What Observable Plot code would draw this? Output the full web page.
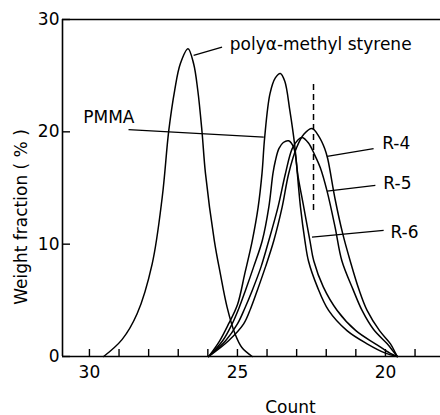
<!DOCTYPE html>
<html><head><meta charset="utf-8">
<script src="https://cdn.jsdelivr.net/npm/d3@7"></script>
<script src="https://cdn.jsdelivr.net/npm/@observablehq/plot@0.6"></script>
<style>html,body{margin:0;padding:0;background:#fff}</style>
</head><body><div id="chart"></div>
<script>
// ---- data (Count, weight fraction %) ----
const pamsCount  = [29.52, 28.9, 28.39, 27.88, 27.54, 27.32, 27.12, 26.93, 26.67, 26.48, 26.34, 26.2, 26.08, 25.78, 25.58, 25.35, 25.08, 24.85, 24.5];
const pamsWeight = [0, 1.5, 3.8, 8.25, 14.2, 20.1, 23.7, 26.06, 27.4, 26.06, 23.7, 20.1, 16.3, 10.3, 7.4, 4.4, 2.0, 0.8, 0];

const pmmaCount  = [25.97, 25.6, 25.3, 25.0, 24.75, 24.5, 24.3, 24.17, 24.08, 23.9, 23.72, 23.55, 23.4, 23.23, 23.07, 22.87, 22.72, 22.6, 22.3, 21.92, 21.3, 20.62, 20.0, 19.6];
const pmmaWeight = [0, 1.4, 2.9, 4.6, 7.4, 10.3, 13.3, 16.3, 19.5, 23.4, 24.8, 25.2, 24.5, 21.9, 18.9, 13.3, 10.3, 8.5, 6.2, 4.1, 2.3, 1.13, 0.3, 0];

const r6Count  = [25.97, 25.5, 25.18, 24.95, 24.73, 24.45, 24.16, 23.94, 23.8, 23.72, 23.6, 23.45, 23.27, 23.1, 22.95, 22.76, 22.55, 22.42, 22.1, 21.63, 21.0, 20.34, 19.85, 19.6];
const r6Weight = [0, 1.4, 2.9, 4.3, 5.88, 8.0, 10.33, 13.3, 16.3, 17.4, 18.5, 19.05, 19.2, 18.6, 16.0, 13.3, 10.3, 8.5, 6.2, 4.1, 2.3, 1.13, 0.3, 0];

const r5Count  = [25.97, 25.4, 25.0, 24.75, 24.5, 24.2, 23.94, 23.63, 23.38, 23.15, 22.95, 22.81, 22.6, 22.4, 22.2, 21.97, 21.7, 21.47, 21.1, 20.79, 20.4, 19.94, 19.72, 19.6];
const r5Weight = [0, 1.4, 2.9, 4.3, 5.88, 8.0, 10.33, 13.3, 16.27, 18.5, 19.3, 19.5, 19.0, 18.0, 16.8, 14.7, 11.5, 8.5, 6.0, 4.1, 2.4, 1.13, 0.4, 0];

const r4Count  = [25.97, 25.3, 24.79, 24.55, 24.33, 24.05, 23.77, 23.49, 23.27, 23.0, 22.75, 22.48, 22.25, 22.05, 21.95, 21.7, 21.45, 21.19, 20.9, 20.62, 20.2, 19.83, 19.68, 19.6];
const r4Weight = [0, 1.4, 2.9, 4.3, 5.88, 8.0, 10.33, 13.3, 16.27, 18.6, 19.8, 20.3, 19.6, 18.5, 17.6, 14.0, 11.0, 8.5, 6.0, 4.1, 2.3, 1.13, 0.4, 0];

// dashed marker line
const dashedCount = 22.43;
const dashedRange = [13.0, 24.3];

// labels and their leader lines
const labelNames  = ["poly\u03B1-methyl styrene", "PMMA", "R-4", "R-5", "R-6"];
const labelCount  = [25.26, 30.21, 20.11, 20.07, 19.83];
const labelWeight = [27.8, 21.3, 18.94, 15.38, 11.07];
const leaderFrom  = [[26.48, 26.8], [28.68, 20.19], [20.4, 18.5], [20.34, 15.23], [20.06, 11.22]];
const leaderTo    = [[25.52, 27.54], [24.11, 19.53], [21.97, 17.81], [21.97, 14.72], [22.48, 10.62]];

// axes
const xMinorTicks = [30, 29, 28, 27, 26, 25, 24, 23, 22, 21, 20, 19];
const xMajorTicks = [30, 25, 20];
const yTicks = [0, 10, 20, 30];
const xDomain = [30.91, 18.14];
const yDomain = [0, 30];
const xTitle = "Count";
const yTitle = "Weight fraction ( % )";

// ---- build rows ----
const toRows = (name, cs, ws) => cs.map((c, i) => ({series: name, count: c, weight: ws[i]}));
const curves = [
  toRows("pams", pamsCount, pamsWeight),
  toRows("pmma", pmmaCount, pmmaWeight),
  toRows("r6", r6Count, r6Weight),
  toRows("r5", r5Count, r5Weight),
  toRows("r4", r4Count, r4Weight)
];
const labels = labelNames.map((t, i) => ({text: t, count: labelCount[i], weight: labelWeight[i]}));
const leaders = leaderFrom.map((f, i) => ({x1: f[0], y1: f[1], x2: leaderTo[i][0], y2: leaderTo[i][1]}));

const FONT = "DejaVu Sans";
const FS = 17;

const chart = Plot.plot({
  width: 440,
  height: 415,
  marginLeft: 62,
  marginRight: 0,
  marginTop: 19,
  marginBottom: 59,
  style: {fontFamily: FONT, fontSize: FS + "px", background: "white", color: "black"},
  x: {domain: xDomain},
  y: {domain: yDomain},
  marks: [
    // frame lines
    Plot.ruleY([yDomain[0], yDomain[1]], {stroke: "black", strokeWidth: 1.6}),
    Plot.ruleX([xDomain[0]], {stroke: "black", strokeWidth: 1.6}),
    // inward ticks
    Plot.axisX({ticks: xMinorTicks, tickSize: 7, tickFormat: () => "", label: null, dy: -7, strokeWidth: 1.4}),
    Plot.axisY({ticks: yTicks, tickSize: 8, tickFormat: () => "", label: null, dx: 8, strokeWidth: 1.4}),
    // tick labels
    Plot.axisX({ticks: xMajorTicks, tickSize: 0, tickPadding: 9, label: null, fontSize: FS, fill: "black"}),
    Plot.axisY({ticks: yTicks, tickSize: 0, tickPadding: 3, label: null, fontSize: FS, fill: "black"}),
    // curves
    ...curves.map(rows => Plot.line(rows, {x: "count", y: "weight", curve: "catmull-rom", stroke: "black", strokeWidth: 1.5})),
    // dashed line
    Plot.ruleX([dashedCount], {y1: dashedRange[0], y2: dashedRange[1], stroke: "black", strokeWidth: 1.5, strokeDasharray: "6,4"}),
    // leaders and labels
    Plot.link(leaders, {x1: "x1", y1: "y1", x2: "x2", y2: "y2", stroke: "black", strokeWidth: 1.3}),
    Plot.text(labels, {x: "count", y: "weight", text: "text", textAnchor: "start", fontSize: FS, fill: "black"}),
    // axis titles
    Plot.text([xTitle], {text: d => d, frameAnchor: "bottom", textAnchor: "middle", dx: 39, dy: 56, fontSize: FS, fill: "black"}),
    Plot.text([yTitle], {text: d => d, frameAnchor: "left", textAnchor: "middle", rotate: -90, dx: -41, dy: 29, fontSize: FS, fill: "black"})
  ]
});
document.getElementById("chart").appendChild(chart);
</script>
</body></html>
